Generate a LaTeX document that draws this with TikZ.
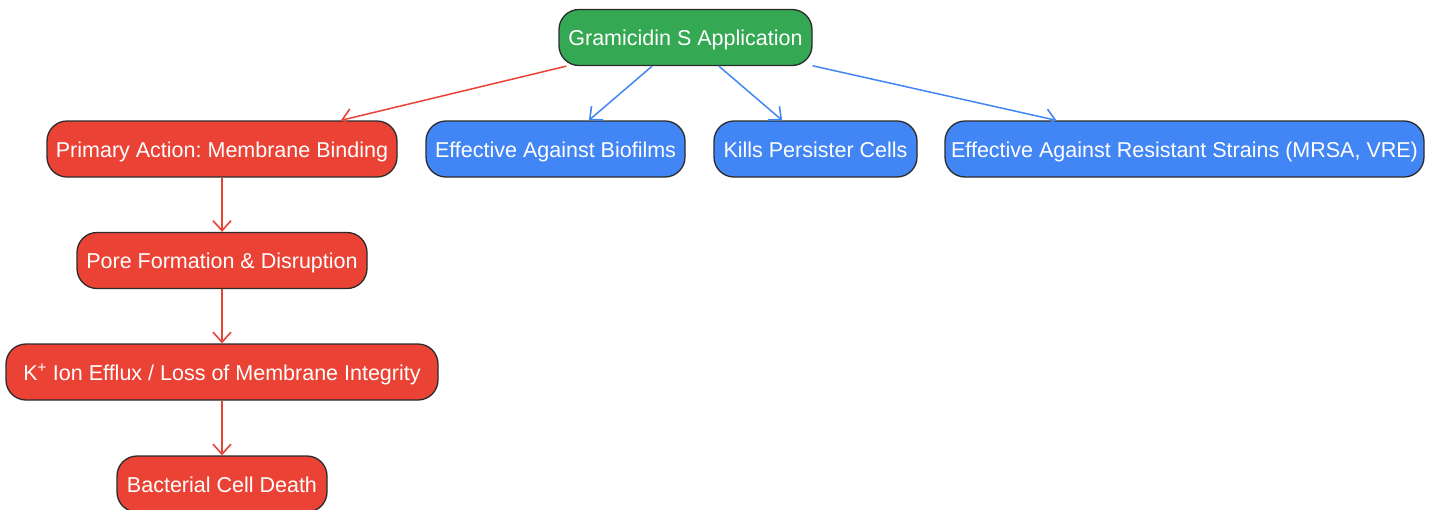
\documentclass[tikz,border=0pt]{standalone}
\usepackage{fontspec}
\setmainfont{Liberation Sans}
\usetikzlibrary{arrows.meta}
\definecolor{gGreen}{HTML}{34A853}
\definecolor{gRed}{HTML}{EA4335}
\definecolor{gBlue}{HTML}{4285F4}
\definecolor{bord}{HTML}{2B2B2B}
\frenchspacing
\tikzset{
  box/.style={draw=bord, line width=1.3pt, rounded corners=20pt, text=white,
    minimum height=56pt, inner sep=0pt, text height=20pt, text depth=4pt,
    font=\fontsize{21.5}{24}\selectfont},
  greenbox/.style={box, fill=gGreen},
  redbox/.style={box, fill=gRed},
  bluebox/.style={box, fill=gBlue},
  conn/.style={line width=1.5pt, -{Straight Barb[length=10pt,width=18pt,line width=1.6pt]}},
  redconn/.style={conn, draw=gRed},
  blueconn/.style={conn, draw=gBlue},
}
\begin{document}
\begin{tikzpicture}[x=1pt,y=-1pt]
\useasboundingbox (0,0) rectangle (1434,509);
\clip (0,0) rectangle (1434,509);
\node[greenbox, minimum width=253pt] (g) at (685.5,37.5) {Gramicidin S Application};
\node[redbox, minimum width=350pt] (p) at (222,149) {Primary Action: Membrane Binding};
\node[bluebox, minimum width=259pt] (b) at (555.5,149) {Effective Against Biofilms};
\node[bluebox, minimum width=203pt] (k) at (815.5,149) {Kills Persister Cells};
\node[bluebox, minimum width=479pt] (r) at (1184.5,149) {Effective Against Resistant Strains (MRSA, VRE)};
\node[redbox, minimum width=290pt] (f) at (222,260.5) {Pore Formation \& Disruption};
\node[redbox, minimum width=432pt] (e) at (222,372) {K\textsuperscript{+} Ion Efflux / Loss of Membrane Integrity};
\node[redbox, minimum width=210pt] (d) at (222,484) {Bacterial Cell Death};
\draw[redconn] (g) -- (p);
\draw[blueconn] (g) -- (b);
\draw[blueconn] (g) -- (k);
\draw[blueconn] (g) -- (r);
\draw[redconn] (p) -- (f);
\draw[redconn] (f) -- (e);
\draw[redconn] (e) -- (d);
\end{tikzpicture}
\end{document}
